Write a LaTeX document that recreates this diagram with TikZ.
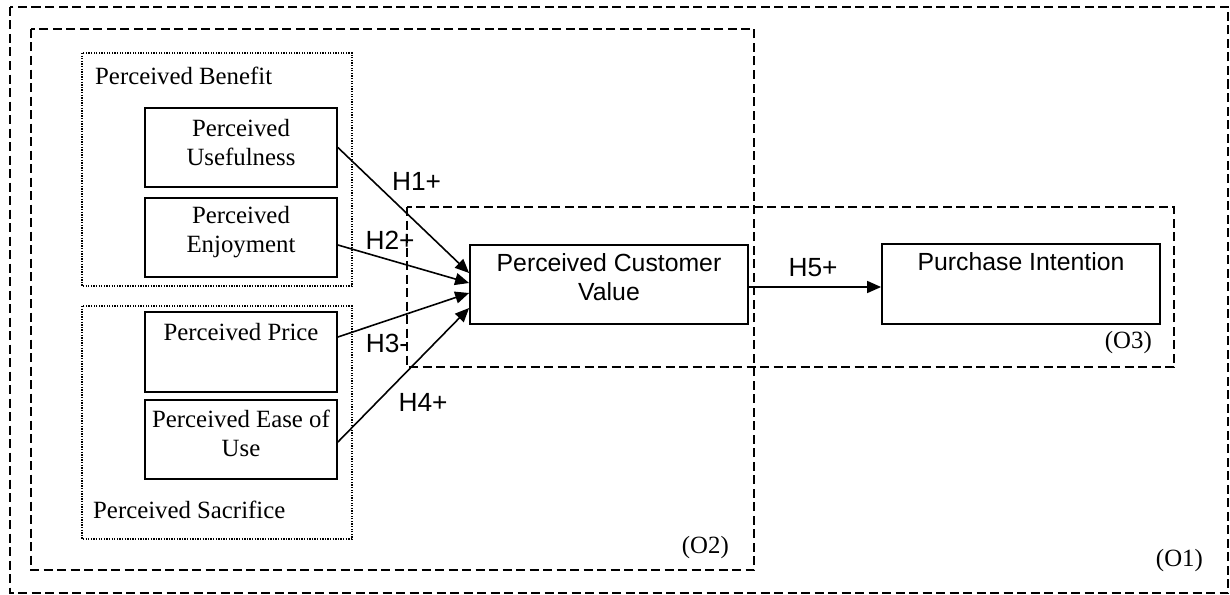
\documentclass[tikz,border=0pt]{standalone}
\usepackage{fontspec}
\setmainfont{Liberation Serif}
\newfontfamily\arialfont{Liberation Sans}
\usetikzlibrary{arrows.meta}

\tikzset{
  frame/.style={draw, line width=1.3pt, dash pattern=on 9pt off 4.5pt},
  group/.style={draw, line width=1.3pt, dash pattern=on 1.3pt off 1.3pt},
  factor/.style={draw, line width=1.8pt, rectangle, inner sep=0pt},
  serif text/.style={font=\fontsize{24.8}{29}\selectfont, align=center, inner sep=0pt},
  sans text/.style={font=\arialfont\fontsize{24.8}{29}\selectfont, align=center, inner sep=0pt},
  path label/.style={font=\arialfont\fontsize{26.3}{30}\selectfont, inner sep=0pt},
  link/.style={line width=1.6pt, -{Triangle[length=14pt,width=12pt]}},
}

\begin{document}
\begin{tikzpicture}[x=1pt, y=-1pt]
\useasboundingbox (0,0) rectangle (1230,594);

% nested study frames
\draw[frame] (10,7) rectangle (1228,593);
\draw[frame] (31,29) rectangle (754,570);
\draw[frame] (407,207) rectangle (1174,367);
\node[serif text, anchor=east] (o1) at (1203,561) {(O1)};
\node[serif text, anchor=east] (o2) at (729,548) {(O2)};
\node[serif text, anchor=east] (o3) at (1152,343) {(O3)};

% benefit and sacrifice groups
\draw[group] (82,53) rectangle (352,286);
\draw[group] (82,306) rectangle (352,539);
\node[serif text, anchor=west] (ben) at (95,76) {Perceived Benefit};
\node[serif text, anchor=west] (sac) at (93,510) {Perceived Sacrifice};

% antecedent factors
\node[factor, minimum width=192pt, minimum height=79pt] (pu) at (241,147.5) {};
\node[factor, minimum width=192pt, minimum height=79pt] (pe) at (241,237.5) {};
\node[factor, minimum width=192pt, minimum height=80pt] (pp) at (241,352) {};
\node[factor, minimum width=192pt, minimum height=79pt] (pa) at (241,439.5) {};
\node[serif text] (put) at (241,142.5) {Perceived\\Usefulness};
\node[serif text] (pet) at (241,232.5) {Perceived\\Enjoyment};
\node[serif text] (ppt) at (241,332) {Perceived Price};
\node[serif text] (pat) at (241,433) {Perceived Ease of\\Use};

% outcome constructs
\node[factor, minimum width=278pt, minimum height=79pt] (pcv) at (609,284.5) {};
\node[sans text] (pcvt) at (609,277.5) {Perceived Customer\\Value};
\node[factor, minimum width=278pt, minimum height=80pt] (pi) at (1021,284) {};
\node[sans text] (pit) at (1021,262) {Purchase Intention};

% hypothesised paths
\draw[link] (pu.east) -- ([yshift=11.5pt]pcv.west);
\draw[link] ([yshift=-7.5pt]pe.east) -- ([yshift=1.5pt]pcv.west);
\draw[link] ([yshift=15pt]pp.east) -- ([yshift=-8.5pt]pcv.west);
\draw[link] ([yshift=-2.5pt]pa.east) -- ([yshift=-23.5pt]pcv.west);
\draw[link] ([yshift=-2.5pt]pcv.east) -- ([yshift=-3pt]pi.west);

\node[path label] (h1) at (416.5,181) {H1+};
\node[path label] (h2) at (390,240) {H2+};
\node[path label] (h3) at (387,343) {H3-};
\node[path label] (h4) at (423,402) {H4+};
\node[path label] (h5) at (813,268) {H5+};
\end{tikzpicture}
\end{document}
